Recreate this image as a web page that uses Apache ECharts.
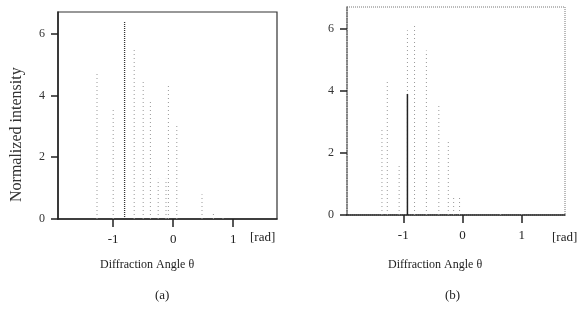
<!DOCTYPE html>
<html>
<head>
    <meta charset="utf-8">
    <title>Diffraction Angle</title>
    <script src="https://cdn.jsdelivr.net/npm/echarts@6/dist/echarts.min.js"></script>
</head>
<body style="margin:0;">
    <div id="main" style="width:584px;height:322px;"></div>
    <script type="text/javascript">
        var dom = document.getElementById("main");
        var myChart = echarts.init(dom);

        // x ticks and y ticks
        var xTicks = [-1, 0, 1];
        var yTicks = [0, 2, 4, 6];

        // (a) stems: [angle, normalized intensity]
        var stemsA = [
            [-1.27, 4.75], [-1.0, 3.6], [-0.65, 5.5], [-0.5, 4.45],
            [-0.38, 3.85], [-0.25, 1.3], [-0.12, 1.3], [-0.08, 4.4],
            [0.06, 3.1], [0.48, 0.8], [0.67, 0.2], [0.83, 0.1]
        ];
        var mainA = [[-0.81, 6.4]];

        // (b) stems
        var stemsB = [
            [-1.36, 2.8], [-1.27, 4.35], [-1.07, 1.6], [-0.93, 5.95],
            [-0.81, 6.1], [-0.61, 5.3], [-0.4, 3.6], [-0.24, 2.4],
            [-0.15, 0.6], [-0.05, 0.6], [0.64, 0.1], [1.0, 0.1]
        ];
        var mainB = [[-0.93, 3.9]];

        var font = '"Liberation Serif", "DejaVu Serif", serif';

        function stemSeries(idx, data, color, dash, width) {
            return {
                type: 'custom',
                xAxisIndex: idx,
                yAxisIndex: idx,
                data: data,
                renderItem: function (params, api) {
                    var p0 = api.coord([api.value(0), 0]);
                    var p1 = api.coord([api.value(0), api.value(1)]);
                    return {
                        type: 'line',
                        shape: { x1: p0[0], y1: p0[1], x2: p1[0], y2: p1[1] },
                        style: { stroke: color, lineWidth: width, lineDash: dash }
                    };
                }
            };
        }

        function xAxisOf(idx, min, max) {
            return {
                type: 'value',
                gridIndex: idx,
                min: min,
                max: max,
                splitLine: { show: false },
                axisLine: { onZero: false, lineStyle: { color: '#222', width: 1.5 } },
                axisTick: { customValues: xTicks, length: 8, lineStyle: { color: '#222', width: 1.5 } },
                axisLabel: { customValues: xTicks, margin: 14, color: '#222', fontFamily: font, fontSize: 13 }
            };
        }

        function yAxisOf(idx, lineColor, lineType) {
            return {
                type: 'value',
                gridIndex: idx,
                min: 0,
                max: 6.7,
                splitLine: { show: false },
                axisLine: { onZero: false, lineStyle: { color: lineColor, width: 1.5, type: lineType } },
                axisTick: { customValues: yTicks, length: 7, lineStyle: { color: '#222', width: 1.5 } },
                axisLabel: { customValues: yTicks, margin: 13, color: '#333', fontFamily: font, fontSize: 12 }
            };
        }

        var option = {
            backgroundColor: '#fff',
            animation: false,
            grid: [
                { left: 58, top: 12, width: 219, height: 207, show: true, borderColor: '#333', borderWidth: 1.2 },
                { left: 347, top: 7, width: 218, height: 208, show: true, borderColor: '#777', borderWidth: 1, borderType: 'dotted' }
            ],
            xAxis: [xAxisOf(0, -1.92, 1.73), xAxisOf(1, -1.95, 1.73)],
            yAxis: [yAxisOf(0, '#222', 'solid'), yAxisOf(1, '#666', 'dotted')],
            graphic: [
                { type: 'text', left: 250, top: 231, style: { text: '[rad]', font: '13px ' + font, fill: '#222' } },
                { type: 'text', left: 552, top: 231, style: { text: '[rad]', font: '13px ' + font, fill: '#222' } },
                { type: 'text', left: 100, top: 259, style: { text: 'Diffraction Angle θ', font: '12px ' + font, fill: '#222' } },
                { type: 'text', left: 388, top: 259, style: { text: 'Diffraction Angle θ', font: '12px ' + font, fill: '#222' } },
                { type: 'text', left: 155, top: 289, style: { text: '(a)', font: '13px ' + font, fill: '#222' } },
                { type: 'text', left: 445, top: 289, style: { text: '(b)', font: '13px ' + font, fill: '#222' } },
                {
                    type: 'text', x: 9, y: 202, rotation: Math.PI / 2,
                    style: { text: 'Normalized intensity', font: '16px ' + font, fill: '#333' }
                }
            ],
            series: [
                stemSeries(0, stemsA, '#999', [1, 3], 1),
                stemSeries(0, mainA, '#333', [1, 1], 1.3),
                stemSeries(1, stemsB, '#999', [1, 3], 1),
                stemSeries(1, mainB, '#222', null, 1.5)
            ]
        };
        myChart.setOption(option, true);
    </script>
</body>
</html>
